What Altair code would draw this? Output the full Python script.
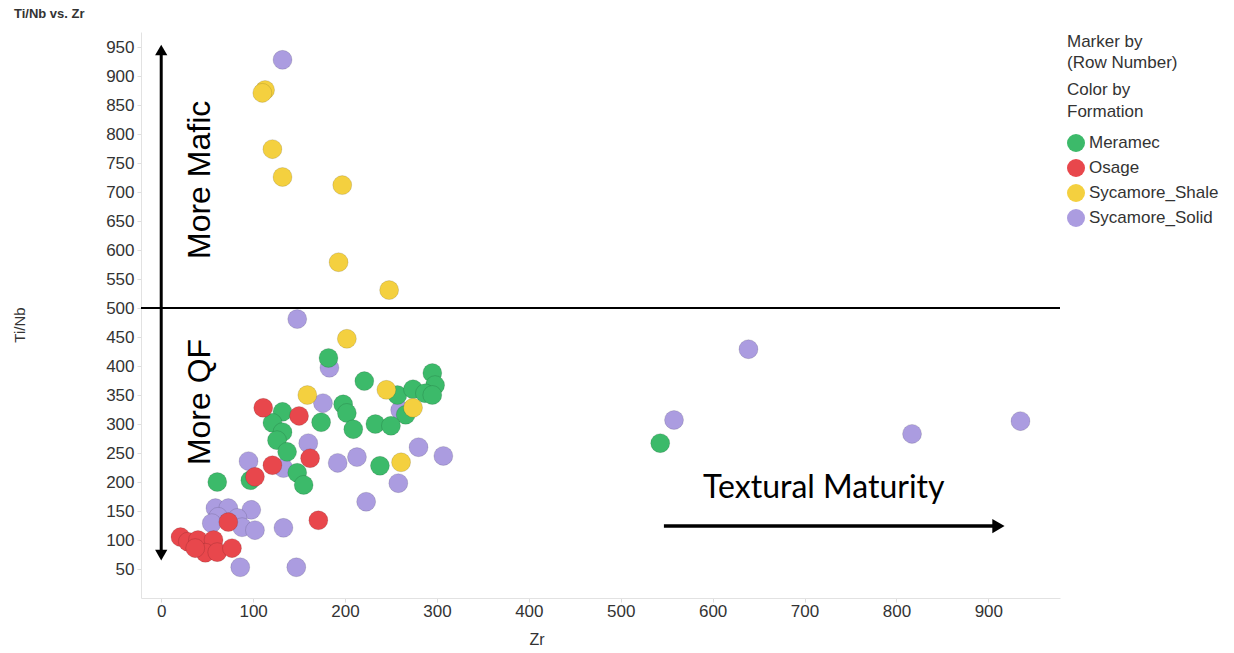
import altair as alt
import pandas as pd

# ---- measured samples (Zr, Ti/Nb) by formation ----
meramec_zr = [182, 221, 257, 274, 295, 298, 287, 295, 266, 198, 202, 174, 209, 233, 250,
              238, 148, 155, 132, 121, 132, 126, 137, 61, 97, 543]
meramec_tinb = [414, 374, 350, 360, 388, 367, 353, 350, 316, 334, 319, 303, 291, 300, 297,
                228, 216, 195, 321, 302, 286, 272, 252, 200, 203, 267]

osage_zr = [21, 29, 40, 57, 48, 61, 77, 37, 73, 171, 102, 121, 111, 150, 162]
osage_tinb = [105, 97, 100, 100, 78, 79, 86, 86, 131, 134, 209, 229, 328, 314, 241]

shale_zr = [113, 110, 121, 132, 197, 193, 248, 202, 245, 274, 159, 261]
shale_tinb = [876, 871, 774, 726, 712, 579, 531, 447, 359, 328, 350, 234]

solid_zr = [132, 148, 183, 260, 176, 160, 192, 213, 280, 307, 258, 223, 95, 133,
            59, 73, 98, 62, 83, 55, 88, 102, 133, 86, 147, 639, 558, 817, 935]
solid_tinb = [928, 481, 397, 324, 336, 267, 233, 243, 260, 245, 198, 166, 236, 224,
              155, 155, 152, 140, 138, 129, 122, 117, 121, 53, 53, 429, 307, 283, 305]

formations = ["Meramec", "Osage", "Sycamore_Shale", "Sycamore_Solid"]
colors = ["#3cba6a", "#e8474c", "#f4d03f", "#ab9ce0"]

x_ticks = list(range(0, 1000, 100))
y_ticks = list(range(50, 1000, 50))

rows = []
for name, xs, ys in [("Sycamore_Solid", solid_zr, solid_tinb),
                     ("Meramec", meramec_zr, meramec_tinb),
                     ("Osage", osage_zr, osage_tinb),
                     ("Sycamore_Shale", shale_zr, shale_tinb)]:
    for x, y in zip(xs, ys):
        rows.append({"Zr": x, "TiNb": y, "Formation": name})
df = pd.DataFrame(rows)

W, H = 919, 566
xscale = alt.Scale(domain=[-22, 978], nice=False, zero=False)
yscale = alt.Scale(domain=[0, 976], nice=False, zero=False)
FONT = "Liberation Sans"
TXT = "#333333"

xaxis = alt.Axis(values=x_ticks, title=None, grid=False,
                 labelFontSize=17, labelColor=TXT, labelFont=FONT, labelPadding=1,
                 labelOverlap=False, domainColor="#e2e2e2", tickColor="#dddddd", tickSize=4)
yaxis = alt.Axis(values=y_ticks, title=None, grid=False,
                 labelFontSize=17, labelColor=TXT, labelFont=FONT, labelPadding=3,
                 labelOverlap=False, domainColor="#e2e2e2", tickColor="#dddddd", tickSize=4)


def X(field, **kw):
    return alt.X(field, scale=xscale, axis=xaxis, **kw)


def Y(field, **kw):
    return alt.Y(field, scale=yscale, axis=yaxis, **kw)


points = alt.Chart(df).mark_circle(size=361, opacity=1, stroke="#000000",
                                   strokeOpacity=0.12, strokeWidth=1).encode(
    x=X("Zr:Q"),
    y=Y("TiNb:Q"),
    color=alt.Color("Formation:N",
                    scale=alt.Scale(domain=formations, range=colors),
                    legend=alt.Legend(title=["Color by", "Formation"], orient="none",
                                      legendX=926, legendY=50, padding=0,
                                      titleFontSize=17, titleFontWeight="normal",
                                      titleColor=TXT, titleFont=FONT, titleLineHeight=22,
                                      titlePadding=13, labelFontSize=17, labelColor=TXT,
                                      labelFont=FONT, labelOffset=4, symbolType="circle",
                                      symbolSize=324, symbolStrokeWidth=0, rowPadding=7,
                                      symbolOpacity=1)),
)

# horizontal divider at Ti/Nb = 500
divider = alt.Chart(pd.DataFrame({"y": [500]})).mark_rule(color="black", strokeWidth=2).encode(
    y=Y("y:Q"), x=alt.value(0), x2=alt.value(W))

# vertical double-headed arrow along Zr = 0
vline = alt.Chart(pd.DataFrame({"x": [0], "y": [74], "y2": [945]})).mark_rule(
    color="black", strokeWidth=3).encode(x=X("x:Q"), y=Y("y:Q"), y2="y2:Q")
head_up = alt.Chart(pd.DataFrame({"x": [0], "y": [945]})).mark_point(
    shape="triangle-up", filled=True, size=150, color="black", opacity=1).encode(
    x=X("x:Q"), y=Y("y:Q"))
head_down = alt.Chart(pd.DataFrame({"x": [0], "y": [74]})).mark_point(
    shape="triangle-down", filled=True, size=150, color="black", opacity=1).encode(
    x=X("x:Q"), y=Y("y:Q"))

# horizontal arrow for textural maturity
harrow = alt.Chart(pd.DataFrame({"x": [547], "x2": [911], "y": [124]})).mark_rule(
    color="black", strokeWidth=3.5).encode(x=X("x:Q"), x2="x2:Q", y=Y("y:Q"))
head_right = alt.Chart(pd.DataFrame({"x": [911], "y": [124]})).mark_point(
    shape="triangle-right", filled=True, size=200, color="black", opacity=1).encode(
    x=X("x:Q"), y=Y("y:Q"))

# annotation labels
notes = pd.DataFrame({"x": [42, 42], "y": [721, 338], "t": ["More Mafic", "More QF"]})
vtext = alt.Chart(notes).mark_text(angle=270, fontSize=32, font=FONT, color="black",
                                   align="center", baseline="middle").encode(
    x=X("x:Q"), y=Y("y:Q"), text="t:N")
ttext = alt.Chart(pd.DataFrame({"x": [721], "y": [190], "t": ["Textural Maturity"]})).mark_text(
    fontSize=32, font="Lato", color="black", align="center", baseline="middle").encode(
    x=X("x:Q"), y=Y("y:Q"), text="t:N")


# chart title, axis titles and marker note (pixel-positioned)
def label(txt, x, y, size, weight="normal", angle=0, align="left"):
    return alt.Chart(pd.DataFrame({"t": [txt]})).mark_text(
        fontSize=size, font=FONT, fontWeight=weight, color=TXT, align=align,
        baseline="middle", angle=angle).encode(
        x=alt.value(x), y=alt.value(y), text="t:N")


title = label("Ti/Nb vs. Zr", -127, -18, 13, weight="bold")
ytitle = label("Ti/Nb", -121, 293, 15, angle=270, align="center")
xtitle = label("Zr", 396, 608, 16, align="center")
marker1 = label("Marker by", 926, 10, 17)
marker2 = label("(Row Number)", 926, 31, 17)

chart = alt.layer(points, divider, vline, head_up, head_down, harrow, head_right,
                  vtext, ttext, title, ytitle, xtitle, marker1, marker2).properties(
    width=W, height=H,
    autosize=alt.AutoSizeParams(type="none"),
    padding={"left": 141, "top": 32, "right": 174, "bottom": 55},
    background="white",
).configure_view(stroke=None).configure_axis(labelOverlap=False)

chart.save("out.html", embed_options={"renderer": "svg", "actions": False})
